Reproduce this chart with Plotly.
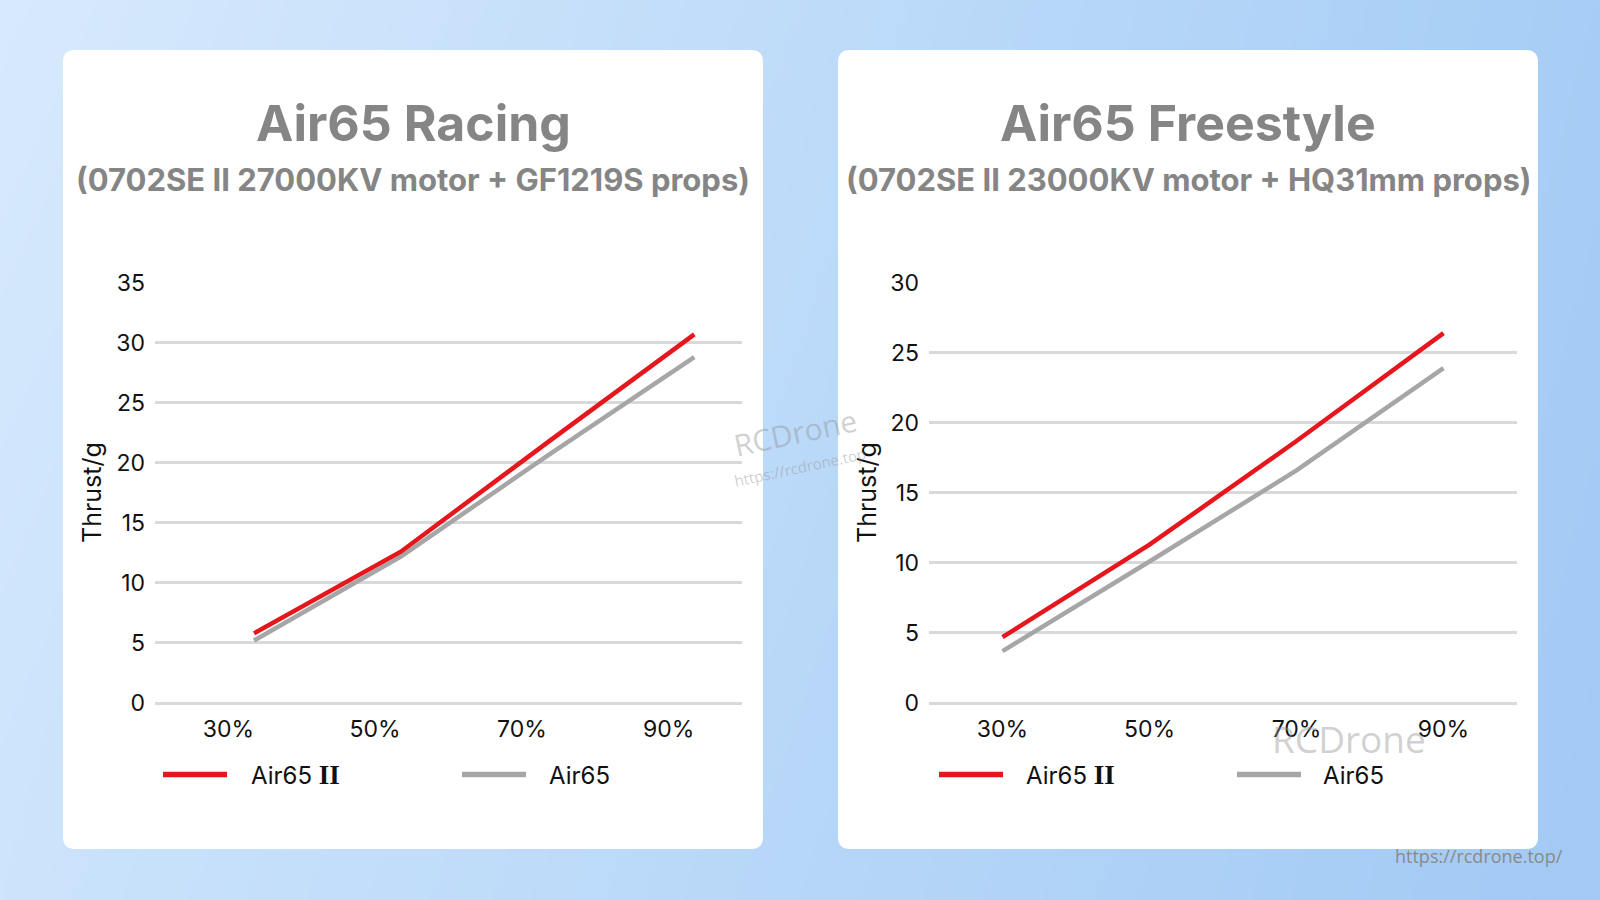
import base64, struct, zlib
import numpy as np
import plotly.graph_objects as go

# ---------------- data ----------------
throttle_labels = ["30%", "50%", "70%", "90%"]
throttle_ticks = [30, 50, 70, 90]

racing_x = [33.5, 53.5, 73.5, 93.5]
racing_air65_ii = [5.8, 12.6, 21.7, 30.7]
racing_air65 = [5.2, 12.2, 20.6, 28.8]

free_x = [30, 50, 70, 90]
free_air65_ii = [4.7, 11.3, 18.7, 26.4]
free_air65 = [3.7, 10.1, 16.6, 23.9]

W, H = 1600, 900
RED = "#e5171d"
GRAY = "#a6a6a6"
GRID = "#d9d9d9"
TITLE_C = "#858585"
FONT = "Inter"


def px(x):
    return x / W


def py(y):
    return 1 - y / H


# ---------------- background gradient (PNG) ----------------
def gradient_png(w, h):
    tl = np.array([216, 234, 253], float)
    tr = np.array([167, 206, 246], float)
    bl = np.array([204, 228, 252], float)
    br = np.array([162, 202, 245], float)
    u = np.linspace(0, 1, w)[None, :, None]
    v = np.linspace(0, 1, h)[:, None, None]
    img = (tl * (1 - u) * (1 - v) + tr * u * (1 - v) + bl * (1 - u) * v + br * u * v)
    img = np.clip(img, 0, 255).astype(np.uint8)
    raw = b"".join(b"\x00" + img[r].tobytes() for r in range(h))

    def chunk(t, d):
        c = struct.pack(">I", len(d)) + t + d
        return c + struct.pack(">I", zlib.crc32(t + d) & 0xFFFFFFFF)

    png = b"\x89PNG\r\n\x1a\n" + chunk(b"IHDR", struct.pack(">IIBBBBB", w, h, 8, 2, 0, 0, 0))
    png += chunk(b"IDAT", zlib.compress(raw, 9)) + chunk(b"IEND", b"")
    return "data:image/png;base64," + base64.b64encode(png).decode()


def rounded_rect(x0, y0, x1, y1, r):
    pts = []
    pts.append(f"M{px(x0 + r)},{py(y0)}")
    pts.append(f"L{px(x1 - r)},{py(y0)}")
    pts.append(f"Q{px(x1)},{py(y0)} {px(x1)},{py(y0 + r)}")
    pts.append(f"L{px(x1)},{py(y1 - r)}")
    pts.append(f"Q{px(x1)},{py(y1)} {px(x1 - r)},{py(y1)}")
    pts.append(f"L{px(x0 + r)},{py(y1)}")
    pts.append(f"Q{px(x0)},{py(y1)} {px(x0)},{py(y1 - r)}")
    pts.append(f"L{px(x0)},{py(y0 + r)}")
    pts.append(f"Q{px(x0)},{py(y0)} {px(x0 + r)},{py(y0)}")
    return " ".join(pts) + " Z"


fig = go.Figure()

fig.add_trace(go.Scatter(x=racing_x, y=racing_air65, mode="lines", name="Air65",
                         line=dict(color=GRAY, width=4.5), xaxis="x", yaxis="y", showlegend=False))
fig.add_trace(go.Scatter(x=racing_x, y=racing_air65_ii, mode="lines", name="Air65 II",
                         line=dict(color=RED, width=4.5), xaxis="x", yaxis="y", showlegend=False))
fig.add_trace(go.Scatter(x=free_x, y=free_air65, mode="lines", name="Air65",
                         line=dict(color=GRAY, width=4.5), xaxis="x2", yaxis="y2", showlegend=False))
fig.add_trace(go.Scatter(x=free_x, y=free_air65_ii, mode="lines", name="Air65 II",
                         line=dict(color=RED, width=4.5), xaxis="x2", yaxis="y2", showlegend=False))

ydom = [py(703), py(282.7)]
tickfont = dict(family=FONT, size=23, color="#111111")
xcommon = dict(range=[20, 100], tickvals=throttle_ticks, ticktext=throttle_labels,
               showgrid=False, zeroline=False, showline=False, ticks="",
               tickfont=tickfont, ticklabelstandoff=10, fixedrange=True, automargin=False)
ycommon = dict(showgrid=True, gridcolor=GRID, gridwidth=3, zeroline=True, zerolinecolor=GRID,
               zerolinewidth=3, showline=False, ticks="", tickfont=tickfont,
               ticklabelstandoff=9, fixedrange=True, automargin=False)

fig.update_layout(
    width=W, height=H,
    autosize=False,
    margin=dict(l=0, r=0, t=0, b=0, pad=0, autoexpand=False),
    paper_bgcolor="#c6e0fa",
    plot_bgcolor="rgba(0,0,0,0)",
    showlegend=False,
    xaxis=dict(domain=[px(155), px(742)], anchor="y", **xcommon),
    yaxis=dict(domain=ydom, anchor="x", range=[0, 35], dtick=5, **ycommon),
    xaxis2=dict(domain=[px(929), px(1517)], anchor="y2", **xcommon),
    yaxis2=dict(domain=ydom, anchor="x2", range=[0, 30], dtick=5, **ycommon),
    images=[dict(source=gradient_png(320, 180), xref="paper", yref="paper", x=0, y=1,
                 sizex=1, sizey=1, xanchor="left", yanchor="top", sizing="stretch",
                 layer="below")],
)

shapes = []
for (x0, x1) in [(63, 763), (838, 1538)]:
    shapes.append(dict(type="path", path=rounded_rect(x0, 50, x1, 849, 12), xref="paper", yref="paper",
                       fillcolor="white", line=dict(width=0), layer="below"))

annotations = []
cards = [
    (413, "Air65 Racing", "(0702SE II 27000KV motor + GF1219S props)", 92, 163, 249, 462, 547),
    (1188, "Air65 Freestyle", "(0702SE II 23000KV motor + HQ31mm props)", 867, 939, 1024, 1237, 1321),
]
II = "<span style=\"font-family:'Liberation Serif';font-weight:bold;font-size:27px\">II</span>"
for cx, title, sub, ax_x, l1, t1, l2, t2 in cards:
    annotations.append(dict(x=px(cx), y=py(123), xref="paper", yref="paper", text=f"<b>{title}</b>",
                            showarrow=False, xanchor="center", yanchor="middle",
                            font=dict(family=FONT, size=50, color=TITLE_C)))
    annotations.append(dict(x=px(cx), y=py(180), xref="paper", yref="paper", text=f"<b>{sub}</b>",
                            showarrow=False, xanchor="center", yanchor="middle",
                            font=dict(family=FONT, size=31, color=TITLE_C)))
    annotations.append(dict(x=px(ax_x), y=py(493), xref="paper", yref="paper", text="Thrust/g",
                            showarrow=False, textangle=-90, xanchor="center", yanchor="middle",
                            font=dict(family=FONT, size=25, color="#111111")))
    # manual legend
    shapes.append(dict(type="line", xref="paper", yref="paper", x0=px(l1), x1=px(l1 + 64),
                       y0=py(774.5), y1=py(774.5), line=dict(color=RED, width=5.5)))
    shapes.append(dict(type="line", xref="paper", yref="paper", x0=px(l2), x1=px(l2 + 64),
                       y0=py(774.5), y1=py(774.5), line=dict(color=GRAY, width=5.5)))
    annotations.append(dict(x=px(t1), y=py(775), xref="paper", yref="paper",
                            text="Air65 " + II,
                            showarrow=False, xanchor="left", yanchor="middle",
                            font=dict(family=FONT, size=24, color="#111111")))
    annotations.append(dict(x=px(t2), y=py(775), xref="paper", yref="paper", text="Air65",
                            showarrow=False, xanchor="left", yanchor="middle",
                            font=dict(family=FONT, size=24, color="#111111")))

# watermarks
annotations.append(dict(x=px(795), y=py(433), xref="paper", yref="paper", text="RCDrone",
                        showarrow=False, textangle=-12, xanchor="center", yanchor="middle",
                        font=dict(family="Open Sans", size=30, color="rgba(150,150,150,0.45)")))
annotations.append(dict(x=px(800), y=py(467), xref="paper", yref="paper", text="https://rcdrone.top",
                        showarrow=False, textangle=-12, xanchor="center", yanchor="middle",
                        font=dict(family="Open Sans", size=15, color="rgba(150,150,150,0.45)")))
annotations.append(dict(x=px(1349), y=py(738), xref="paper", yref="paper", text="RCDrone",
                        showarrow=False, xanchor="center", yanchor="middle",
                        font=dict(family="Open Sans", size=37, color="rgba(150,150,150,0.45)")))
annotations.append(dict(x=px(1565), y=py(856), xref="paper", yref="paper", text="https://rcdrone.top/",
                        showarrow=False, xanchor="right", yanchor="middle",
                        font=dict(family="Open Sans", size=18, color="#8a8a8a")))

fig.update_layout(shapes=shapes, annotations=annotations)
fig.write_html("out.html")
